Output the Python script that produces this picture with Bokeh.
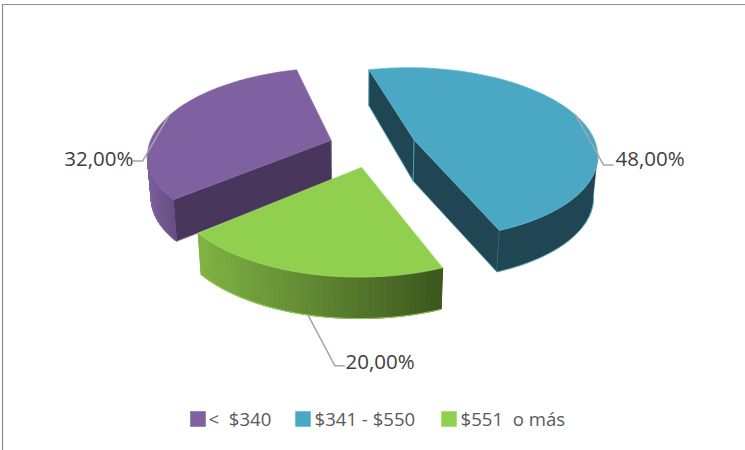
import numpy as np
from bokeh.plotting import figure
from bokeh.embed import file_html
from bokeh.resources import INLINE
from bokeh.core.properties import value

# ---- data ----
categories = ["<  $340", "$341 - $550", "$551  o más"]
shares = [32.0, 48.0, 20.0]
data_labels = ["32,00%", "48,00%", "20,00%"]

# ---- styles ----
top_colors = ["#7F60A0", "#4AA8C5", "#91CF4F"]
side_colors = ["#49365D", "#1F4652", "#000000"]
rim_left = ["#7A5E9A", "#1F4652", "#80B345"]
rim_right = ["#674F83", "#1F4652", "#3C561D"]
edge_colors = ["#8A6FAB", "#62BAD3", "#A5DE67"]
FONT = "Open Sans"
TXT = "#404040"

START = -14.7          # clock angle where the big slice starts
CX, CY, A, B, K, EXPL = 372.2, 146.0, 182.5, 85.5, 0.155, 0.242
DEPTH, VX, CONV = 41.5, 360.0, 0.018


def top(theta, slice_mid, r=1.0):
    t = np.radians(theta)
    m = np.radians(slice_mid)
    X = EXPL * np.sin(m) + r * np.sin(t)
    Y = -EXPL * np.cos(m) - r * np.cos(t)
    w = 1 - K * Y
    return CX + A * X / w, CY + B * Y / w, Y, w


def low(theta, slice_mid):
    x, y, Y, w = top(theta, slice_mid)
    d = np.where(Y < 0, DEPTH / w, DEPTH)
    return VX + (x - VX) * (1 - CONV), y + d


def low_apex(slice_mid):
    x, y, Y, w = top(0.0, slice_mid, r=0.0)
    d = DEPTH / w if Y < 0 else DEPTH
    return VX + (x - VX) * (1 - CONV), y + d


def apex(slice_mid):
    return top(0.0, slice_mid, r=0.0)[:2], low_apex(slice_mid)


p = figure(width=745, height=450, x_range=(0, 745), y_range=(450, 0),
           output_backend="svg", toolbar_location=None, min_border=0,
           outline_line_color=None, background_fill_color="white")
p.axis.visible = False
p.grid.visible = False

# frame of the reference picture (left and top only)
p.line([2, 2, 745], [450, 4, 4], line_color="#8C8C8C", line_width=1.2)

# angular extent of each slice; the blue one starts at START, purple ends there
sp = [s / sum(shares) * 360 for s in shares]
spans = [(START - sp[0], START), (START, START + sp[1]),
         (START + sp[1], START + sp[1] + sp[2])]
VIS0 = np.degrees(np.arccos(-K))          # right tangent of the rim
VIS1 = 360 - VIS0                         # left tangent of the rim

for i in [0, 1, 2]:
    a0, a1 = spans[i]
    mid = (a0 + a1) / 2
    th = np.linspace(a0, a1, 90)
    (ax, ay), (bx, by) = apex(mid)

    # radial side walls
    walls = {0: [a0], 1: [a0, a1], 2: []}[i]
    for w_a in walls:
        ex, ey = top(w_a, mid)[:2]
        lx, ly = low(np.array(w_a), mid)
        p.patch([ax, float(ex), float(lx), bx], [ay, float(ey), float(ly), by],
                fill_color=side_colors[i], line_color=side_colors[i], line_width=0.5)
        p.line([float(ex), float(lx), bx, ax], [float(ey), float(ly), by, ay],
               line_color=edge_colors[i], line_width=0.7)

    # outer rim: one flat base, then thin shaded strips over it
    if i == 0:
        lo, hi = max(a0 + 360, VIS0), min(360 + a1, VIS1)
    else:
        lo, hi = max(a0, VIS0), min(a1, VIS1)
    rim = np.linspace(lo, hi, 49)
    c0 = np.array([int(rim_left[i][k:k + 2], 16) for k in (1, 3, 5)], float)
    c1 = np.array([int(rim_right[i][k:k + 2], 16) for k in (1, 3, 5)], float)
    tx, ty = top(rim, mid)[:2]
    lx, ly = low(rim, mid)
    xmin, xmax = tx.min(), tx.max()
    base = "#%02X%02X%02X" % tuple(int(round(q)) for q in (c0 + c1) / 2)
    p.patch(list(tx) + list(lx[::-1]), list(ty) + list(ly[::-1]),
            fill_color=base, line_color=base, line_width=0.5)
    if rim_left[i] != rim_right[i]:
        xs, ys, cols = [], [], []
        for j in range(len(rim) - 1):
            xs.append([tx[j], tx[j + 1], lx[j + 1], lx[j]])
            ys.append([ty[j], ty[j + 1], ly[j + 1], ly[j]])
            f = ((tx[j] + tx[j + 1]) / 2 - xmin) / (xmax - xmin)
            c = c0 + (c1 - c0) * f
            cols.append("#%02X%02X%02X" % tuple(int(round(q)) for q in c))
        p.patches(xs, ys, fill_color=cols, line_color=cols, line_width=1.0)
    p.line(list(lx), list(ly), line_color=edge_colors[i], line_width=0.8)

    # top face
    ex, ey = top(th, mid)[:2]
    p.patch([ax] + list(ex), [ay] + list(ey), fill_color=top_colors[i],
            line_color=edge_colors[i], line_width=0.7)

# leader lines and data labels
elbows = [(-26, 45, -10), (28, 50, 10), (27, 51, 10)]
label_x = [133, 615, 345]
label_y = [157, 157, 360]
aligns = ["right", "left", "left"]
for i in range(3):
    a0, a1 = spans[i]
    mid = (a0 + a1) / 2
    if i == 2:
        sx, sy = low(np.array(mid), mid)
        sx, sy = float(sx) + 2, float(sy)
    else:
        sx, sy = [float(q) for q in top(mid, mid)[:2]]
    dx, dy, tail = elbows[i]
    p.line([sx, sx + dx, sx + dx + tail], [sy, sy + dy, sy + dy],
           line_color="#A6A6A6", line_width=1.5)
    p.text([label_x[i]], [label_y[i]], text=[data_labels[i]], text_font=value(FONT),
           text_font_size="20.5px", text_color=TXT, text_align=aligns[i],
           text_baseline="middle")

# legend
swatch_x = [197.5, 302.5, 448.5]
text_x = [208, 314, 460]
p.rect(swatch_x, [418.5] * 3, width=15, height=15, fill_color=top_colors,
       line_color=edge_colors, line_width=0.7)
p.text(text_x, [417.5] * 3, text=[c.replace("  ", "\u00a0 ") for c in categories],
       text_font=value(FONT), text_font_size="18.6px", text_color="#595959",
       text_baseline="middle")

html = file_html(p, INLINE)
open("out.html", "w").write(html)
